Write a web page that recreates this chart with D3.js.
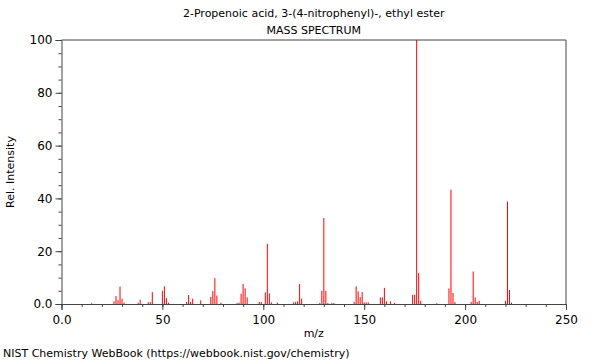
<!DOCTYPE html>
<html>
<head>
<meta charset="utf-8">
<script src="https://cdn.jsdelivr.net/npm/d3@7"></script>
<style>
  body { margin: 0; background: #fff; }
  svg text { font-family: "DejaVu Sans", sans-serif; font-size: 11px; fill: #000; }
</style>
</head>
<body>
<div id="chart"></div>
<script>
// peak list
const mz = [15, 26, 27, 28, 29, 30, 31, 38, 39, 43, 44, 45, 50, 51, 52, 53,
  62, 63, 64, 65, 69, 74, 75, 76, 77, 79, 87, 88, 89, 90, 91, 92, 98, 99,
  101, 102, 103, 104, 107, 115, 116, 117, 118, 119, 128, 129, 130, 131, 132,
  134, 135, 145, 146, 147, 148, 149, 150, 151, 152, 158, 159, 160, 161, 163,
  165, 174, 175, 176, 177, 178, 186, 192, 193, 194, 195, 203, 204, 205, 206,
  207, 220, 221, 222, 223];
const intensity = [0.3, 1.0, 3.0, 1.5, 6.6, 2.0, 0.5, 0.5, 1.6, 0.7, 0.7, 4.5, 5.0, 6.7, 2.2, 0.5,
  0.8, 3.4, 0.8, 2.0, 1.4, 2.7, 4.9, 9.8, 3.2, 0.5, 0.4, 0.5, 3.9, 7.6, 5.9, 2.5, 0.8, 0.8,
  4.4, 22.8, 4.0, 0.6, 0.5, 0.6, 0.8, 1.0, 7.6, 2.0, 0.4, 5.0, 32.6, 5.0, 0.4,
  0.4, 0.4, 0.8, 6.7, 4.8, 2.6, 4.5, 0.6, 0.6, 0.6, 2.5, 2.5, 6.1, 1.0, 1.0,
  0.4, 3.5, 3.5, 100, 11.7, 1.2, 0.3, 5.9, 43.3, 4.2, 0.7, 0.8, 12.3, 2.5, 0.8,
  1.2, 1.2, 38.8, 5.3, 0.5];

const xMajor = [0, 50, 100, 150, 200, 250];
const yMajor = [0, 20, 40, 60, 80, 100];

const width = 600, height = 360;
const margin = { top: 40, right: 34, bottom: 56, left: 61.5 };

const svg = d3.select('#chart')
  .append('svg')
  .attr('width', width)
  .attr('height', height);

const x = d3.scaleLinear()
  .domain([0, 250])
  .range([margin.left, width - margin.right]);

const y = d3.scaleLinear()
  .domain([0, 100])
  .range([height - margin.bottom, margin.top]);

const axisColor = '#444';

// minor ticks first
svg.append('g')
  .attr('transform', `translate(0,${height - margin.bottom})`)
  .call(d3.axisBottom(x).tickValues(d3.range(0, 251, 10)).tickSize(3).tickFormat(''))
  .call(g => g.select('.domain').remove())
  .call(g => g.selectAll('.tick line').attr('stroke', axisColor));

svg.append('g')
  .attr('transform', `translate(${margin.left},0)`)
  .call(d3.axisLeft(y).tickValues(d3.range(0, 101, 5)).tickSize(3).tickFormat(''))
  .call(g => g.select('.domain').remove())
  .call(g => g.selectAll('.tick line').attr('stroke', axisColor));

// X axis
svg.append('g')
  .attr('transform', `translate(0,${height - margin.bottom})`)
  .call(d3.axisBottom(x).tickValues(xMajor).tickSize(6).tickPadding(5)
    .tickFormat(d => d === 0 ? '0.0' : d))
  .call(g => g.select('.domain').attr('stroke', axisColor))
  .call(g => g.selectAll('.tick line').attr('stroke', axisColor))
  .call(g => g.selectAll('.tick text').style('font-size', '12px'));

// Y axis
svg.append('g')
  .attr('transform', `translate(${margin.left},0)`)
  .call(d3.axisLeft(y).tickValues(yMajor).tickSize(6).tickPadding(3)
    .tickFormat(d => d === 0 ? '0.0' : d))
  .call(g => g.select('.domain').attr('stroke', axisColor))
  .call(g => g.selectAll('.tick line').attr('stroke', axisColor))
  .call(g => g.selectAll('.tick text').style('font-size', '12px'));

// frame: top and right
svg.append('path')
  .attr('d', `M${x(0)},${y(100)}H${x(250)}V${y(0)}`)
  .attr('fill', 'none')
  .attr('stroke', axisColor);

// the peaks
svg.append('g')
  .selectAll('line')
  .data(mz.map((m, i) => ({ m, v: intensity[i] })))
  .join('line')
  .attr('x1', d => x(d.m))
  .attr('x2', d => x(d.m))
  .attr('y1', y(0))
  .attr('y2', d => y(d.v))
  .attr('stroke', '#ff0000')
  .attr('stroke-width', 1);

// titles and labels
const cx = (x(0) + x(250)) / 2;
svg.append('text').attr('x', cx).attr('y', 17).attr('text-anchor', 'middle')
  .text('2-Propenoic acid, 3-(4-nitrophenyl)-, ethyl ester');
svg.append('text').attr('x', cx).attr('y', 34).attr('text-anchor', 'middle')
  .text('MASS SPECTRUM');
svg.append('text').attr('x', cx).attr('y', 337).attr('text-anchor', 'middle')
  .text('m/z');
svg.append('text')
  .attr('transform', `translate(14,${(y(0) + y(100)) / 2}) rotate(-90)`)
  .attr('text-anchor', 'middle')
  .text('Rel. Intensity');
svg.append('text').attr('x', 3).attr('y', 357)
  .text('NIST Chemistry WebBook (https://webbook.nist.gov/chemistry)');
</script>
</body>
</html>
